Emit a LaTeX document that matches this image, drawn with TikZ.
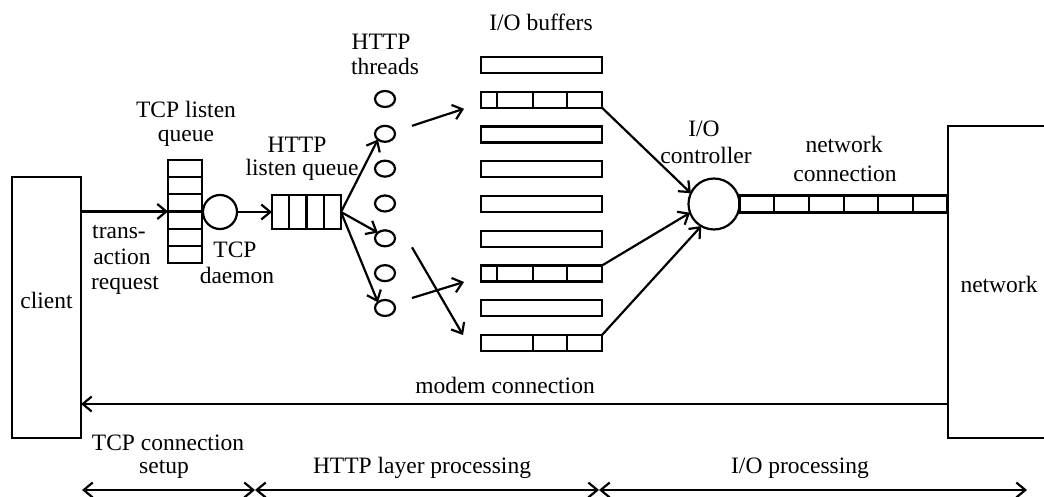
\documentclass[tikz,border=0pt]{standalone}
\usepackage{fontspec}
\setmainfont{Liberation Serif}
\usetikzlibrary{arrows.meta,shapes.geometric}
\begin{document}
\begin{tikzpicture}[x=1pt,y=-1pt,
  every node/.style={inner sep=0pt, outer sep=0pt},
  ln/.style={line width=2.2pt},
  arr/.style={ln,-{Straight Barb[length=9pt,width=15pt]}},
  darr/.style={ln,{Straight Barb[length=9pt,width=15pt]}-{Straight Barb[length=9pt,width=15pt]}},
  box/.style={draw, ln, rectangle},
  txt/.style={font=\fontsize{23.5}{26}\selectfont, anchor=base},
  buf/.style={box, minimum width=121pt, minimum height=16pt},
  thr/.style={draw, ln, ellipse, minimum width=20pt, minimum height=16pt},
  ring/.style={draw, ln, circle},
]
\useasboundingbox (0,0) rectangle (1044,497);
\clip (0,0) rectangle (1044,497);

% client and network boxes
\node[box, minimum width=69pt, minimum height=261pt] (client) at (46.5,307.5) {};
\node[txt] (clientlabel) at (46.5,308) {client};
\node[box, minimum width=200pt, minimum height=312pt, anchor=north west] (network) at (948,126) {};
\node[txt] (netlabel) at (999,292) {network};

% TCP listen queue
\node[box, minimum width=34pt, minimum height=103pt] (tcpq) at (185,211.5) {};
\foreach \i in {1,...,5}
  \draw[ln] ([yshift={-\i*17.17pt}]tcpq.north west) -- ([yshift={-\i*17.17pt}]tcpq.north east);

% TCP daemon
\node[ring, minimum size=34pt] (daemon) at (220,212) {};

% HTTP listen queue
\node[box, minimum width=69pt, minimum height=34pt] (httpq) at (306.5,212) {};
\foreach \i in {1,2,3}
  \draw[ln] ([xshift={\i*17.25pt}]httpq.north west) -- ([xshift={\i*17.25pt}]httpq.south west);

% HTTP threads
\foreach \i in {1,...,7}
  \node[thr] (t\i) at (385,{99+(\i-1)*34.83}) {};

% I/O buffers
\foreach \i in {1,...,9}
  \node[buf] (b\i) at (541.5,{65+(\i-1)*34.75}) {};
\foreach \b in {b2,b7}
  \foreach \d in {16,52,86}
    \draw[ln] ([xshift=\d pt]\b.north west) -- ([xshift=\d pt]\b.south west);
\foreach \d in {52,86}
  \draw[ln] ([xshift=\d pt]b9.north west) -- ([xshift=\d pt]b9.south west);

% I/O controller and network connection
\node[ring, minimum size=51pt] (ctrl) at (714,204) {};
\node[box, anchor=west, minimum width=208pt, minimum height=17pt] (pipe) at (ctrl.east) {};
\foreach \i in {1,...,5}
  \draw[ln] ([xshift={\i*34.7pt}]pipe.north west) -- ([xshift={\i*34.7pt}]pipe.south west);

% labels
\node[txt] (tcpl1) at (186,118) {TCP listen};
\node[txt] (tcpl2) at (186,142) {queue};
\node[txt] (hql1) at (297,153) {HTTP};
\node[txt] (hql2) at (302,176) {listen queue};
\node[txt] (thl1) at (381,50) {HTTP};
\node[txt] (thl2) at (385,75) {threads};
\node[txt] (bufl) at (541,31) {I/O buffers};
\node[txt] (ctl1) at (704,137) {I/O};
\node[txt] (ctl2) at (706,164) {controller};
\node[txt] (ncl1) at (844,153) {network};
\node[txt] (ncl2) at (845,182) {connection};
\node[txt] (tr1) at (119,238) {trans-};
\node[txt] (tr2) at (122,265) {action};
\node[txt] (tr3) at (125,289) {request};
\node[txt] (td1) at (235,257) {TCP};
\node[txt] (td2) at (237,283) {daemon};
\node[txt] (mc) at (505,393) {modem connection};
\node[txt] (ph1) at (168,450) {TCP connection};
\node[txt] (ph2) at (164,473) {setup};
\node[txt] (ph3) at (422,473) {HTTP layer processing};
\node[txt] (ph4) at (800,473) {I/O processing};

% connectors
\draw[arr] (tcpq.west -| client.east) -- (tcpq.west);
\draw[arr] (daemon.east) -- (httpq.west);
\draw[arr] (httpq.east) -- (t2.south west);
\draw[arr] (httpq.east) -- (t5.north west);
\draw[arr] (httpq.east) -- (t7.north west);
\draw[arr] ([shift={(17,-8)}]t2.east) -- ([shift={(-17,9)}]b2.west);
\draw[arr] ([shift={(17,-10)}]t7.east) -- ([shift={(-17,8.5)}]b7.west);
\draw[arr] ([shift={(17,9)}]t5.east) -- ([shift={(-18,-8)}]b9.west);
\draw[arr] (b2.south east) -- (ctrl.155);
\draw[arr] (b7.north east) -- (ctrl.200);
\draw[arr] (b9.north east) -- (ctrl.240);

\coordinate (mrow) at (505,404);
\draw[arr] (network.west |- mrow) -- (client.east |- mrow);

\coordinate (dA) at (82,490);
\coordinate (dB) at (255,490);
\coordinate (dC) at (599,490);
\coordinate (dD) at (1027,490);
\draw[darr] (dA) -- (dB);
\draw[darr] (dB) -- (dC);
\draw[darr] (dC) -- (dD);
\end{tikzpicture}
\end{document}
